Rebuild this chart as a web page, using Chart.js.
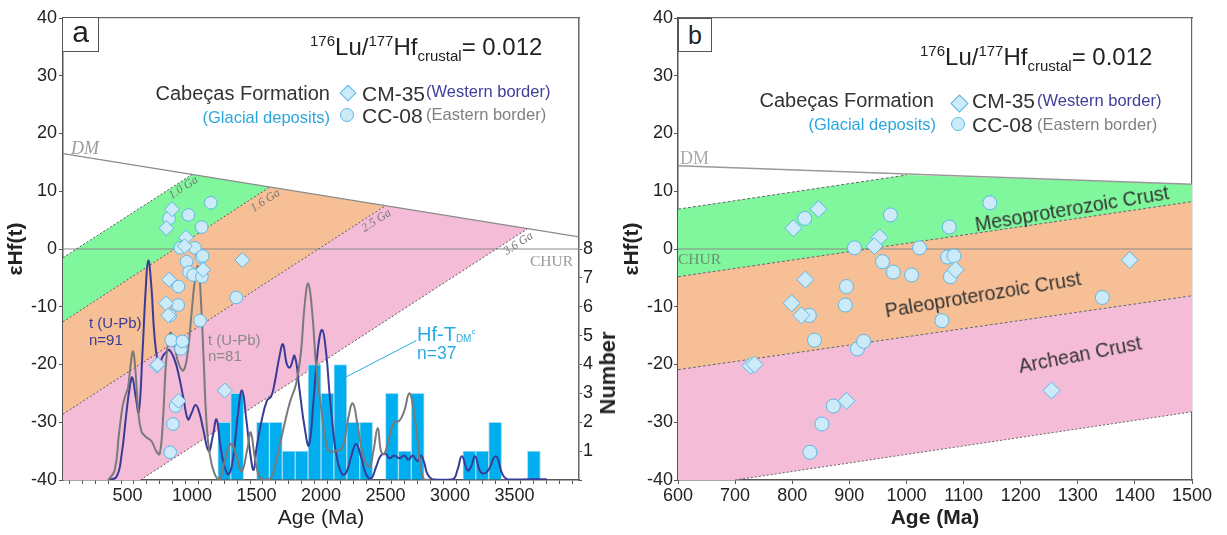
<!DOCTYPE html>
<html>
<head>
<meta charset="utf-8">
<title>Cabeças Formation - εHf(t) vs Age</title>
<script src="https://cdn.jsdelivr.net/npm/chart.js@4.4.1/dist/chart.umd.min.js"></script>
<style>
  body { margin: 0; background: #fff; font-family: Arial, "Liberation Sans", sans-serif; }
  #page { position: relative; width: 1227px; height: 535px; overflow: hidden; }
  canvas { position: absolute; top: 0; }
  #chartA { left: 0; }
  #chartB { left: 620px; }
  .t { position: absolute; white-space: nowrap; line-height: 1; color: #333; }
  .t sup, .t sub { font-size: 15px; line-height: 0; position: relative; vertical-align: baseline; }
  .t sup { top: -0.62em; }
  .t sub { top: 0.38em; }
  .serif { font-family: "Liberation Serif", "Times New Roman", serif; }
  .rot { transform: translate(-50%, -50%) rotate(-33deg); }
  .box { position: absolute; border: 1px solid #555; background: #fff; text-align: center; color: #222; }
  .dia { position: absolute; width: 10px; height: 10px; background: #cdeaf8; border: 1px solid #5cb8e8; transform: rotate(45deg); }
  .dot { position: absolute; width: 12px; height: 12px; border-radius: 50%; background: #cdeaf8; border: 1px solid #5cb8e8; }
</style>
</head>
<body>
<div id="page">
  <canvas id="chartA" width="620" height="535"></canvas>
  <canvas id="chartB" width="607" height="535"></canvas>

  <!-- panel a texts -->
  <div class="box" style="left:62px;top:17px;width:35px;height:33px;font-size:30px;line-height:27px;">a</div>
  <div class="t" style="left:310px;top:35px;font-size:24px;color:#222;"><sup>176</sup>Lu/<sup>177</sup>Hf<sub>crustal</sub>= 0.012</div>
  <div class="t" style="right:897px;top:83px;font-size:20px;">Cabeças Formation</div>
  <div class="t" style="right:897px;top:109px;font-size:16.5px;color:#2aa6df;">(Glacial deposits)</div>
  <div class="dia" style="left:342px;top:87px;"></div>
  <div class="dot" style="left:340px;top:108px;"></div>
  <div class="t" style="left:362px;top:83px;font-size:21px;">CM-35</div>
  <div class="t" style="left:426px;top:83px;font-size:16.5px;color:#40409a;">(Western border)</div>
  <div class="t" style="left:362px;top:105px;font-size:21px;">CC-08</div>
  <div class="t" style="left:426px;top:106px;font-size:16.5px;color:#808080;">(Eastern border)</div>
  <div class="t serif" style="left:71px;top:139px;font-size:18px;font-style:italic;color:#9a9a9a;">DM</div>
  <div class="t serif" style="left:530px;top:253px;font-size:15.5px;color:#9a9a9a;">CHUR</div>
  <div class="t serif rot" style="left:183px;top:187px;font-size:12px;font-style:italic;color:#777;">1.0 Ga</div>
  <div class="t serif rot" style="left:265px;top:200px;font-size:12px;font-style:italic;color:#777;">1.6 Ga</div>
  <div class="t serif rot" style="left:376px;top:220px;font-size:12px;font-style:italic;color:#777;">2.5 Ga</div>
  <div class="t serif rot" style="left:518px;top:243px;font-size:12px;font-style:italic;color:#777;">3.6 Ga</div>
  <div class="t" style="left:89px;top:315px;font-size:15px;color:#3b3b98;">t (U-Pb)</div>
  <div class="t" style="left:89px;top:332px;font-size:15px;color:#3b3b98;">n=91</div>
  <div class="t" style="left:208px;top:332px;font-size:15px;color:#8a8a8a;">t (U-Pb)</div>
  <div class="t" style="left:208px;top:348px;font-size:15px;color:#8a8a8a;">n=81</div>
  <div class="t" style="left:417px;top:324px;font-size:20px;color:#29abe2;">Hf-T<sub style="font-size:10px;top:0.1em;">DM</sub><sup style="font-size:8px;top:-0.9em;">c</sup></div>
  <div class="t" style="left:417px;top:345px;font-size:17.5px;color:#29abe2;">n=37</div>
  <div class="t" style="left:608px;top:373px;font-size:22px;font-weight:bold;color:#222;transform:translate(-50%,-50%) rotate(-90deg);">Number</div>

  <!-- panel b texts -->
  <div class="box" style="left:678px;top:18px;width:32px;height:32px;font-size:25px;line-height:33px;">b</div>
  <div class="t" style="left:920px;top:45px;font-size:24px;color:#222;"><sup>176</sup>Lu/<sup>177</sup>Hf<sub>crustal</sub>= 0.012</div>
  <div class="t" style="right:293px;top:90px;font-size:20px;">Cabeças Formation</div>
  <div class="t" style="right:291px;top:116px;font-size:16.5px;color:#2aa6df;">(Glacial deposits)</div>
  <div class="dia" style="left:953px;top:97px;width:11px;height:11px;"></div>
  <div class="dot" style="left:951px;top:117px;"></div>
  <div class="t" style="left:972px;top:90px;font-size:21px;">CM-35</div>
  <div class="t" style="left:1037px;top:92px;font-size:16.5px;color:#40409a;">(Western border)</div>
  <div class="t" style="left:972px;top:114px;font-size:21px;">CC-08</div>
  <div class="t" style="left:1037px;top:116px;font-size:16.5px;color:#808080;">(Eastern border)</div>
  <div class="t serif" style="left:680px;top:149px;font-size:18px;color:#aaa;">DM</div>
  <div class="t serif" style="left:678px;top:251px;font-size:15.5px;color:rgba(100,110,100,0.75);">CHUR</div>
  <div class="t" style="left:1072px;top:209px;font-size:19.5px;color:#333;transform:translate(-50%,-50%) rotate(-9.5deg);">Mesoproterozoic Crust</div>
  <div class="t" style="left:983px;top:295px;font-size:19.5px;color:#333;transform:translate(-50%,-50%) rotate(-9.5deg);">Paleoproterozoic Crust</div>
  <div class="t" style="left:1080px;top:355px;font-size:19.5px;color:#333;transform:translate(-50%,-50%) rotate(-11deg);">Archean Crust</div>
</div>

<script>
// ---------- data ----------
// CC-08 (circles, Eastern border): age (Ma) and εHf(t)
const cc08Age = [822, 972, 1146, 1075, 909, 1023, 1072, 1083, 958, 977, 1009, 1077, 895, 893, 830, 839, 914, 925, 1062, 1343, 872, 852, 831];
const cc08Ehf = [5.3, 5.9, 8.0, 3.8, 0.2, 0.2, -1.4, -1.2, -2.2, -4.0, -4.5, -4.8, -6.5, -9.7, -11.5, -15.8, -17.3, -16.0, -12.4, -8.4, -27.2, -30.3, -35.2];
// CM-35 (diamonds, Western border)
const cm35Age = [802, 846, 953, 944, 1391, 1086, 823, 799, 816, 727, 734, 895, 1254];
const cm35Ehf = [3.6, 6.9, 2.0, 0.5, -1.9, -3.6, -5.3, -9.4, -11.5, -20.2, -20.0, -26.3, -24.5];

// Hf-TDM(c) histogram (n=37), 100 Ma bins, bin centres
const histAge = [1250, 1350, 1550, 1650, 1750, 1850, 1950, 2050, 2150, 2250, 2350, 2550, 2650, 2750, 3150, 3250, 3350, 3650];
const histCount = [2, 3, 2, 2, 1, 1, 4, 3, 4, 2, 2, 3, 1, 3, 1, 1, 2, 1];

// U-Pb probability curve, n=91 (dark blue), in "Number" units
const kde91Age = [350, 413, 452, 491, 517, 537, 563, 587, 615, 641, 661, 685, 711, 744, 775, 806, 827, 866, 899, 935, 969, 995, 1028, 1059, 1085, 1130, 1160, 1190, 1220, 1250, 1285, 1320, 1356, 1388, 1421, 1452, 1478, 1500, 1537, 1581, 1614, 1640, 1679, 1705, 1736, 1760, 1795, 1834, 1872, 1906, 1942, 1975, 2009, 2040, 2066, 2091, 2122, 2164, 2195, 2233, 2272, 2311, 2349, 2388, 2427, 2465, 2504, 2530, 2569, 2607, 2646, 2679, 2710, 2749, 2775, 2800, 2826, 2865, 3020, 3058, 3092, 3136, 3162, 3195, 3239, 3290, 3355, 3407, 3445, 3750];
const kde91Val = [0, 0.1, 0.8, 2.3, 3.2, 3.55, 2.9, 2.35, 4.3, 6.6, 7.6, 6.7, 4.9, 4.0, 4.3, 4.45, 4.5, 4.15, 3.6, 2.8, 2.1, 2.3, 2.6, 2.3, 1.8, 1.0, 1.5, 2.1, 1.2, 0.5, 0.2, 0.8, 2.3, 3.1, 2.1, 0.9, 0.35, 1.1, 2.0, 2.75, 2.9, 3.35, 4.3, 4.7, 4.0, 3.9, 4.3, 3.1, 1.85, 1.2, 2.75, 4.5, 5.2, 4.4, 3.0, 1.85, 0.8, 0.2, 0.25, 0.8, 1.25, 0.8, 0.2, 0.05, 0.45, 0.85, 0.9, 0.75, 0.85, 0.75, 0.85, 0.7, 0.85, 0.65, 0.85, 0.6, 0.2, 0.03, 0.03, 0.35, 0.82, 0.33, 0.45, 0.82, 0.26, 0.3, 0.82, 0.2, 0.03, 0.03];

// U-Pb probability curve, n=81 (grey)
const kde81Age = [350, 400, 434, 460, 478, 504, 522, 543, 563, 581, 607, 641, 685, 723, 749, 775, 796, 817, 837, 866, 899, 935, 969, 995, 1021, 1047, 1072, 1090, 1111, 1137, 1176, 1214, 1250, 1300, 1340, 1385, 1430, 1455, 1490, 1525, 1560, 1610, 1653, 1705, 1756, 1808, 1846, 1872, 1901, 1932, 1963, 2001, 2040, 2066, 2117, 2169, 2207, 2246, 2285, 2324, 2375, 2406, 2440, 2465, 2491, 2530, 2569, 2607, 2646, 2684, 2715, 2749, 2775, 2800, 2850];
const kde81Val = [0, 0.33, 1.6, 2.5, 2.85, 3.2, 3.9, 4.45, 3.7, 2.5, 1.7, 1.5, 1.35, 1.0, 0.9, 2.1, 3.9, 4.85, 5.1, 4.6, 4.0, 3.8, 4.5, 5.7, 6.85, 7.4, 6.0, 4.2, 2.1, 0.9, 0.2, 0.02, 0.6, 1.25, 0.9, 0.3, 1.1, 1.65, 0.7, 0.1, 0.02, 0.05, 0.7, 1.7, 2.65, 3.35, 4.5, 6.0, 6.8, 5.8, 3.9, 2.5, 1.25, 1.0, 1.0, 1.15, 2.05, 2.65, 1.85, 0.9, 0.45, 1.0, 1.8, 1.0, 0.9, 1.5, 2.0, 2.05, 2.4, 3.0, 2.5, 1.35, 0.35, 0.02, 0];

// Hf-TDM label leader line (in "Number" units)
const leaderAge = [2182, 2739];
const leaderVal = [3.54, 4.83];

// panel a: depleted mantle and crustal evolution lines (176Lu/177Hf = 0.012)
const dmAgeA = [0, 4000];
const dmEhfA = [16.5, 2.1];
const ga10Age = [0, 1000];
const ga10Ehf = [-1.5, 12.9];
const ga16Age = [0, 1600];
const ga16Ehf = [-12.6, 10.7];
const ga25Age = [0, 2500];
const ga25Ehf = [-28.6, 7.5];
const ga36Age = [600, 3600];
const ga36Ehf = [-40, 3.5];

// panel b: zoomed crust fields
const dmAgeB = [600, 1500];
const dmEhfB = [14.4, 11.2];
const mesoTopAge = [600, 1000];
const mesoTopEhf = [6.9, 12.8];
const mesoBaseAge = [600, 1500];
const mesoBaseEhf = [-4.8, 8.2];
const paleoBaseAge = [600, 1500];
const paleoBaseEhf = [-20.9, -8.1];
const archBaseAge = [700, 1500];
const archBaseEhf = [-40, -28.2];

const churAgeA = [0, 4000];
const churAgeB = [600, 1500];
const churEhf = [0, 0];

const ageTicksA = [500, 1000, 1500, 2000, 2500, 3000, 3500];
const numberTicks = [1, 2, 3, 4, 5, 6, 7, 8];

// ---------- colours ----------
const GREEN = '#80f79c';
const ORANGE = '#f7bf95';
const PINK = '#f5bcd7';
const BLUE_LINE = '#3a3b97';
const GREY_LINE = '#7a7a7a';
const MARK_FILL = '#cdeaf8';
const MARK_EDGE = '#5cb8e8';

Chart.defaults.font.family = 'Arial, "Liberation Sans", sans-serif';
Chart.defaults.color = '#222';
Chart.defaults.animation = false;

function pts(xs, ys) {
    return xs.map(function (x, i) { return {x: x, y: ys[i]}; });
}
function rev(a) { return a.slice().reverse(); }

function bandSet(data, color) {
    return {type: 'line', data: data, fill: 'shape', backgroundColor: color,
        borderColor: 'rgba(0,0,0,0)', borderWidth: 0, pointRadius: 0, tension: 0, order: 30};
}
function lineSet(data, color, width, dash, order) {
    return {type: 'line', data: data, fill: false, borderColor: color, borderWidth: width,
        borderDash: dash || [], pointRadius: 0, tension: 0, order: order || 20};
}
function curveSet(xs, ys, color) {
    // smooth probability curve (drawn against the "Number" axis)
    return {type: 'line', data: pts(xs, ys), yAxisID: 'y1', fill: false, borderColor: color,
        borderWidth: 2, pointRadius: 0, tension: 0.45, order: 8};
}
function markerSet(xs, ys, style, r) {
    return {type: 'scatter', data: pts(xs, ys), pointStyle: style, pointRadius: r,
        backgroundColor: MARK_FILL, borderColor: MARK_EDGE, borderWidth: 1, order: 2};
}
function frameAxis(position) {
    // plain border line only (top / right frame)
    return {type: 'linear', position: position, display: true,
        ticks: {display: false}, grid: {display: true, drawOnChartArea: false, drawTicks: false},
        border: {display: true, color: '#666', width: 1.2},
        afterFit: function (s) { if (position === 'top') s.height = 0; else s.width = 0; }};
}

const dotted = [2, 2];

// ---------- panel a ----------
const greenA = pts(ga10Age.concat(rev(ga16Age)), ga10Ehf.concat(rev(ga16Ehf)));
const orangeA = pts(ga16Age.concat(rev(ga25Age)), ga16Ehf.concat(rev(ga25Ehf)));
const pinkA = pts(ga25Age.concat(rev(ga36Age), [0]), ga25Ehf.concat(rev(ga36Ehf), [-40]));

new Chart(document.getElementById('chartA'), {
    type: 'scatter',
    data: {
        datasets: [
            bandSet(pinkA, PINK),
            bandSet(orangeA, ORANGE),
            bandSet(greenA, GREEN),
            lineSet(pts(ga10Age, ga10Ehf), '#555', 1, dotted),
            lineSet(pts(ga16Age, ga16Ehf), '#555', 1, dotted),
            lineSet(pts(ga25Age, ga25Ehf), '#555', 1, dotted),
            lineSet(pts(ga36Age, ga36Ehf), '#555', 1, dotted),
            lineSet(pts(dmAgeA, dmEhfA), '#8a8a8a', 1.2),
            lineSet(pts(churAgeA, churEhf), '#8a8a8a', 1.2),
            {type: 'bar', data: pts(histAge, histCount), yAxisID: 'y1', backgroundColor: '#00aeef',
                borderColor: '#a3dcf4', borderWidth: 1, barPercentage: 1, categoryPercentage: 1, order: 12},
            Object.assign(lineSet(pts(leaderAge, leaderVal), '#29abe2', 1, [], 9), {yAxisID: 'y1'}),
            curveSet(kde81Age, kde81Val, GREY_LINE),
            curveSet(kde91Age, kde91Val, BLUE_LINE),
            markerSet(cm35Age, cm35Ehf, 'rectRot', 7.5),
            markerSet(cc08Age, cc08Ehf, 'circle', 6.3)
        ]
    },
    options: {
        responsive: false,
        layout: {padding: {top: 18, left: 0, right: 0, bottom: 0}},
        plugins: {legend: {display: false}, tooltip: {enabled: false}},
        scales: {
            x: {
                type: 'linear', position: 'bottom', min: 0, max: 4000, offset: false,
                ticks: {
                    stepSize: 100, autoSkip: false, maxRotation: 0, padding: 1,
                    font: {size: 18}, color: '#222',
                    callback: function (v) { return ageTicksA.indexOf(v) >= 0 ? String(v) : ''; }
                },
                grid: {drawOnChartArea: false, tickLength: 4, color: '#555'},
                border: {color: '#555', width: 1.5},
                title: {display: true, text: 'Age (Ma)', font: {size: 21}, color: '#222', padding: {top: 0, bottom: 4}},
                afterFit: function (s) { s.height = 55; }
            },
            xTop: frameAxis('top'),
            y: {
                type: 'linear', position: 'left', min: -40, max: 40,
                ticks: {stepSize: 10, padding: 2, font: {size: 18}, color: '#222'},
                grid: {drawOnChartArea: false, tickLength: 4, color: '#555'},
                border: {color: '#555', width: 1.5},
                title: {display: true, text: 'εHf(t)', font: {size: 21, weight: 'bold'}, color: '#222', padding: {top: 4}},
                afterFit: function (s) { s.width = 63; }
            },
            y1: {
                type: 'linear', position: 'right', min: 0, max: 16,
                ticks: {
                    stepSize: 1, padding: 1, font: {size: 18}, color: '#222',
                    callback: function (v) {
                        if (numberTicks.indexOf(v) >= 0) return String(v);
                        return v === 0 ? '' : null;
                    }
                },
                grid: {drawOnChartArea: false, tickLength: 3, color: '#555'},
                border: {color: '#666', width: 1.5},
                afterFit: function (s) { s.width = 41; }
            }
        }
    }
});

// ---------- panel b ----------
const greenB = pts(mesoTopAge.concat([dmAgeB[1]], rev(mesoBaseAge)),
    mesoTopEhf.concat([dmEhfB[1]], rev(mesoBaseEhf)));
const orangeB = pts(mesoBaseAge.concat(rev(paleoBaseAge)), mesoBaseEhf.concat(rev(paleoBaseEhf)));
const pinkB = pts(paleoBaseAge.concat(rev(archBaseAge), [600]), paleoBaseEhf.concat(rev(archBaseEhf), [-40]));

new Chart(document.getElementById('chartB'), {
    type: 'scatter',
    data: {
        datasets: [
            bandSet(pinkB, PINK),
            bandSet(orangeB, ORANGE),
            bandSet(greenB, GREEN),
            lineSet(pts(mesoTopAge, mesoTopEhf), '#666', 1, [3, 2]),
            lineSet(pts(mesoBaseAge, mesoBaseEhf), '#666', 1, [3, 2]),
            lineSet(pts(paleoBaseAge, paleoBaseEhf), '#666', 1, [3, 2]),
            lineSet(pts(archBaseAge, archBaseEhf), '#666', 1, dotted),
            lineSet(pts(dmAgeB, dmEhfB), '#999', 1.5),
            lineSet(pts(churAgeB, churEhf), '#8a8a8a', 1.2),
            markerSet(cm35Age, cm35Ehf, 'rectRot', 8.5),
            markerSet(cc08Age, cc08Ehf, 'circle', 7)
        ]
    },
    options: {
        responsive: false,
        layout: {padding: {top: 18, left: 0, right: 35, bottom: 0}},
        plugins: {legend: {display: false}, tooltip: {enabled: false}},
        scales: {
            x: {
                type: 'linear', position: 'bottom', min: 600, max: 1500, offset: false,
                ticks: {stepSize: 100, autoSkip: false, maxRotation: 0, padding: 1, font: {size: 18}, color: '#222',
                    callback: function (v) { return String(v); }},
                grid: {drawOnChartArea: false, tickLength: 4, color: '#555'},
                border: {color: '#555', width: 1.5},
                title: {display: true, text: 'Age (Ma)', font: {size: 21, weight: 'bold'}, color: '#222', padding: {top: 0, bottom: 4}},
                afterFit: function (s) { s.height = 55; }
            },
            xTop: frameAxis('top'),
            y: {
                type: 'linear', position: 'left', min: -40, max: 40,
                ticks: {stepSize: 10, padding: 1, font: {size: 18}, color: '#222'},
                grid: {drawOnChartArea: false, tickLength: 4, color: '#555'},
                border: {color: '#555', width: 1.5},
                title: {display: true, text: 'εHf(t)', font: {size: 21, weight: 'bold'}, color: '#222', padding: {top: 0}},
                afterFit: function (s) { s.width = 58; }
            },
            yRight: frameAxis('right')
        }
    }
});
</script>
</body>
</html>
